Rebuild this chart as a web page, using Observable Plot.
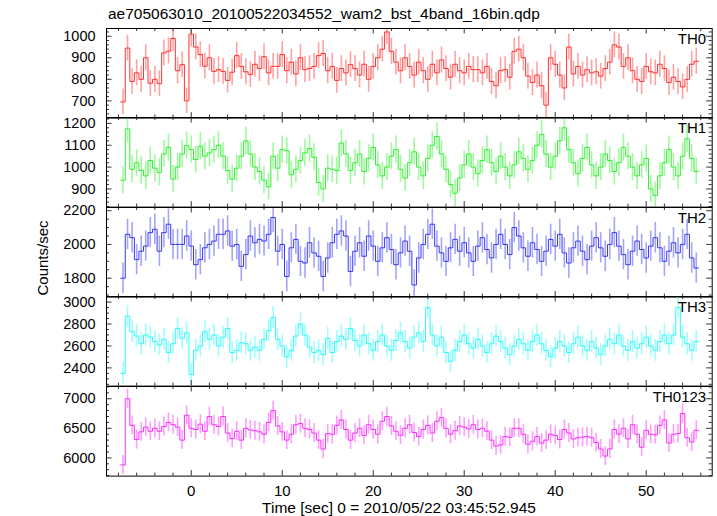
<!DOCTYPE html>
<html><head><meta charset="utf-8">
<script src="https://cdn.jsdelivr.net/npm/d3@7"></script>
<script src="https://cdn.jsdelivr.net/npm/@observablehq/plot@0.6"></script>
<style>
body{margin:0;background:#fff;}
#chart{position:relative;width:717px;height:516px;font-family:"Liberation Sans",Arial,Helvetica,sans-serif;}
#chart svg{position:absolute;left:0;}
</style></head><body><div id="chart"></div>
<script>
// ---- data (counts/sec per 0.5 s bin) ----
const binStart = -7.75;
const binWidth = 0.5;
const th0 = [695,945,790,830,800,900,782,800,780,923,931,990,840,868,700,1010,950,915,861,900,837,845,837,795,833,910,860,835,822,870,850,905,830,860,860,915,840,880,825,900,845,850,860,910,920,840,860,795,850,830,868,
850,820,870,800,860,900,940,1020,930,880,840,900,860,820,880,840,800,870,830,890,850,810,870,840,
830,860,845,845,830,860,790,770,840,845,810,930,940,900,815,785,820,770,680,900,870,820,760,950,825,860,820,845,830,835,815,850,880,960,950,860,900,840,800,790,860,835,830,870,850,785,810,790,765,800,870,884];
const th1 = [940,1175,990,1020,985,960,1030,995,975,1060,1090,945,1000,1060,1098,1080,1035,1095,1050,1065,1080,1100,1050,984,945,995,1050,1120,1060,1000,980,940,910,1050,995,1080,1075,965,990,1030,1065,1085,1045,930,900,995,990,984,1110,1060,984,
1020,1060,980,1040,1090,1010,960,1000,1050,1080,990,950,1020,1070,1000,960,1040,1100,1140,1060,990,920,880,950,
1010,1060,1000,970,1030,1080,1020,980,1050,1000,960,1010,1070,1040,990,1030,1100,1150,1060,1000,1050,1120,1180,1080,1020,970,1040,1090,1010,960,1000,1060,1030,980,1020,1090,1050,1000,960,1010,1040,900,870,960,1020,1080,1000,960,1050,1130,1040,980];
const th2 = [1800,2060,2040,1910,1960,1990,2070,2090,1960,2070,2120,2000,2000,2000,2050,1990,1880,1910,1980,2000,2020,2060,2060,2080,1990,2000,1870,1940,2050,2010,2030,2020,2060,2160,1960,2000,1810,1980,2030,1900,1890,2010,1950,1930,1810,1920,2010,2060,2080,2050,1840,
1960,2010,1930,2050,1990,1900,1980,2040,1970,1880,1950,2020,1960,1760,1920,2000,2060,2120,1990,1950,1900,1980,2030,1960,
2010,1950,1900,1990,2040,1970,1920,2000,2060,2000,1940,2100,2050,1980,1930,2010,1970,1900,1960,2030,1990,2060,1950,1890,1980,2020,1960,1910,1990,2040,1980,1930,2000,2070,1990,1940,1880,1960,2020,1970,1920,1990,2040,1980,1900,1960,2010,1950,2000,2060,1920,1860];
const th3 = [2350,2870,2730,2690,2620,2700,2680,2640,2610,2660,2540,2620,2760,2670,2720,2340,2560,2600,2730,2660,2700,2600,2680,2760,2540,2560,2630,2620,2560,2590,2560,2660,2740,2860,2660,2600,2500,2560,2690,2800,2700,2590,2540,2560,2520,2670,2540,2640,2690,2660,2760,
2650,2600,2700,2620,2560,2640,2700,2600,2560,2650,2720,2640,2580,2680,2720,2640,2950,2700,2600,2680,2540,2460,2560,2640,
2700,2620,2580,2660,2600,2540,2620,2690,2640,2580,2520,2600,2660,2620,2560,2640,2700,2620,2560,2500,2580,2640,2600,2540,2620,2680,2600,2560,2640,2580,2520,2600,2660,2620,2700,2600,2560,2640,2580,2620,2680,2600,2560,2640,2700,2620,2700,2950,2680,2620,2560,2640];
const th0123 = [5880,7000,6550,6310,6440,6520,6450,6500,6450,6530,6600,6560,6520,6300,6720,6500,6480,6570,6450,6700,6560,6530,6700,6420,6326,6450,6300,6500,6470,6460,6440,6400,6600,6800,6540,6440,6300,6400,6560,6580,6500,6480,6420,6300,6150,6410,6400,6550,6640,6480,6300,
6420,6500,6380,6560,6480,6400,6620,6700,6540,6450,6380,6500,6560,6430,6360,6480,6550,6420,6620,6680,6500,6400,6460,6540,
6520,6490,6560,6480,6500,6450,6300,6200,6220,6360,6350,6500,6500,6400,6230,6280,6360,6250,6300,6400,6380,6310,6480,6420,6320,6340,6350,6360,6340,6260,6150,6030,6150,6480,6400,6500,6320,6560,6400,6180,6466,6400,6390,6550,6640,6250,6400,6410,6750,6340,6270,6466];
// typical half-length of the error bars in each band
const errorHalf = [60, 62, 90, 100, 160];
const bandNames = ["TH0","TH1","TH2","TH3","TH0123"];
const yLabels = [[700,800,900,1000],[900,1000,1100,1200],[1800,2000,2200],[2400,2600,2800,3000],[6000,6500,7000]];
const xLabels = [0,10,20,30,40,50];

// ---- layout / style ----
const W = 717, ML = 106, MR = 5.3, PH = 89.6, PAD = 6, TOP0 = 27.5;
const innerW = W - ML - MR;
const xDomain = [-9.31, 57.25];
const yDomains = [[620,1036],[817,1227],[1688,2219],[2234,3051],[5692,7207]];
const yMinorStep = [20,20,50,50,100];
const colors = ["#ff3030","#2ef02e","#3636f2","#2cfafa","#fa2cfa"];
const seriesList = [th0, th1, th2, th3, th0123];
const font = "Liberation Sans, Arial, Helvetica, sans-serif";

const chart = document.getElementById("chart");
const xMinor = d3.range(-8, 57, 2).filter(t => t % 10 !== 0);
const xMajor = d3.range(0, 57, 10);

seriesList.forEach((vals, k) => {
  const last = k === seriesList.length - 1;
  const steps = vals.map((v, i) => ({t: binStart + i * binWidth, v}));
  steps.push({t: binStart + vals.length * binWidth, v: vals[vals.length - 1]});
  const bars = vals.map((v, i) => ({t: binStart + (i + 0.5) * binWidth, lo: v - errorHalf[k], hi: v + errorHalf[k]}));
  const [y0, y1] = yDomains[k];
  const yMajor = yLabels[k];
  const yMinor = d3.range(Math.ceil(y0 / yMinorStep[k]) * yMinorStep[k], y1, yMinorStep[k]).filter(v => !yMajor.includes(v));
  const mb = last ? 46 : PAD;
  const tk = {stroke: "#333", strokeWidth: 1};
  const marks = [
    Plot.ruleX(bars, {x: "t", y1: "lo", y2: "hi", stroke: colors[k], strokeOpacity: 0.45, strokeWidth: 1.6, clip: true}),
    Plot.line(steps, {x: "t", y: "v", curve: "step-after", stroke: colors[k], strokeWidth: 1, clip: true}),
    // inward ticks on all four sides
    Plot.tickX(xMajor, {x: d => d, insetTop: PH - 5.5, ...tk}),
    Plot.tickX(xMinor, {x: d => d, insetTop: PH - 3, ...tk}),
    Plot.tickX(xMajor, {x: d => d, insetBottom: PH - 5.5, ...tk}),
    Plot.tickX(xMinor, {x: d => d, insetBottom: PH - 3, ...tk}),
    Plot.tickY(yMajor, {y: d => d, insetRight: innerW - 5.5, ...tk}),
    Plot.tickY(yMinor, {y: d => d, insetRight: innerW - 3, ...tk}),
    Plot.tickY(yMajor, {y: d => d, insetLeft: innerW - 5.5, ...tk}),
    Plot.tickY(yMinor, {y: d => d, insetLeft: innerW - 3, ...tk}),
    Plot.frame({stroke: "#000", strokeWidth: 1}),
    Plot.axisY(yMajor, {tickSize: 0, tickPadding: 11, fontSize: 14.5, label: null, tickFormat: d => String(d)}),
    Plot.text([bandNames[k]], {frameAnchor: "top-right", textAnchor: "end", lineAnchor: "top", dx: -6, dy: 5, fontSize: 15, fill: "#000"})
  ];
  if (last) marks.push(Plot.axisX(xLabels, {anchor: "bottom", tickSize: 0, tickPadding: 9.5, fontSize: 15, label: null, tickFormat: d => String(d)}));
  const svg = Plot.plot({
    width: W,
    height: PH + PAD + mb,
    marginLeft: ML, marginRight: MR, marginTop: PAD, marginBottom: mb,
    x: {domain: xDomain, ...(last ? {} : {axis: null})},
    y: {domain: yDomains[k]},
    style: {background: "transparent", overflow: "visible", fontFamily: font, fontSize: "15px", color: "#000"},
    marks
  });
  svg.style.top = (TOP0 + k * PH - PAD) + "px";
  chart.appendChild(svg);
});

// titles
const over = d3.select(chart).append("svg")
  .attr("width", W).attr("height", 516)
  .style("top", "0px").style("pointer-events", "none")
  .attr("font-family", font).attr("font-size", 15.5).attr("fill", "#000");
over.append("text").attr("x", 108).attr("y", 19).text("ae705063010_20100522034552_wam2_bst_4band_16bin.qdp");
over.append("text").attr("x", 399).attr("y", 513).attr("text-anchor", "middle").text("Time [sec] 0 = 2010/05/22 03:45:52.945");
over.append("text").attr("transform", "translate(48,258) rotate(-90)").attr("text-anchor", "middle").attr("font-size", 15).text("Counts/sec");
</script></body></html>
